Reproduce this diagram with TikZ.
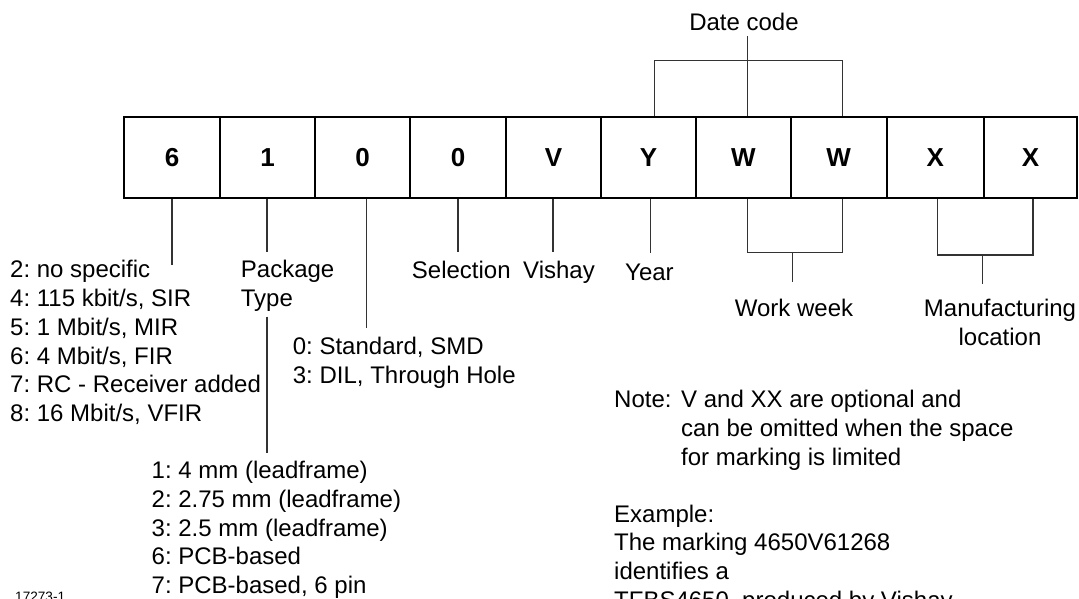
\documentclass[tikz,border=0pt]{standalone}
\usepackage{fontspec}
\setmainfont{Liberation Sans}
\frenchspacing
\usetikzlibrary{positioning}

\begin{document}
\begin{tikzpicture}[
  x=1pt, y=-1pt,
  every node/.style={font=\fontsize{24}{28.8}\selectfont, inner sep=0pt},
  codebox/.style={draw, line width=2pt, minimum height=81.2pt, inner sep=0pt,
                  font=\fontsize{26}{30}\selectfont\bfseries},
  lead/.style={line width=1.1pt, black!80},
  txt/.style={anchor=base west, align=left},
]
  \useasboundingbox (0,0) rectangle (1079,598);
  \clip (0,0) rectangle (1079,598);

  % Marking boxes
  \node[codebox, minimum width=96pt]   (p1)  at (172,157.1)    {6};
  \node[codebox, minimum width=95pt]   (p2)  at (267.5,157.1)  {1};
  \node[codebox, minimum width=95pt]   (p3)  at (362.5,157.1)  {0};
  \node[codebox, minimum width=96pt]   (p4)  at (458,157.1)    {0};
  \node[codebox, minimum width=95pt]   (p5)  at (553.5,157.1)  {V};
  \node[codebox, minimum width=95pt]   (p6)  at (648.5,157.1)  {Y};
  \node[codebox, minimum width=95pt]   (p7)  at (743.5,157.1)  {W};
  \node[codebox, minimum width=95.5pt] (p8)  at (838.75,157.1) {W};
  \node[codebox, minimum width=97.5pt] (p9)  at (935.25,157.1) {X};
  \node[codebox, minimum width=93pt]   (p10) at (1030.5,157.1) {X};

  % Labels (multi-line ones sit on the baseline of their last line)
  \node[anchor=base] (date) at (744,30.8) {Date code};
  \node[txt] (speed) at (10,421.6) {2: no specific\\4: 115 kbit/s, SIR\\5: 1 Mbit/s, MIR\\
    6: 4 Mbit/s, FIR\\7: RC - Receiver added\\8: 16 Mbit/s, VFIR};
  \node[txt] (pkgtype) at (240.7,306.4) {Package\\Type};
  \node[txt] (mount) at (292.7,383.4) {0: Standard, SMD\\3: DIL, Through Hole};
  \node[txt] (pkglist) at (151.5,593.6) {1: 4 mm (leadframe)\\2: 2.75 mm (leadframe)\\
    3: 2.5 mm (leadframe)\\6: PCB-based\\7: PCB-based, 6 pin};
  \node[txt] (sel) at (411.7,278.6) {Selection};
  \node[txt] (vishay) at (523,278.6) {Vishay};
  \node[txt] (year) at (625,280.2) {Year};
  \node[anchor=base] (week) at (794,316.6) {Work week};
  \node[anchor=base, align=center] (loc) at (1000,345.4) {Manufacturing\\location};
  \node[txt] (notehd) at (614,407.9) {Note:};
  \node[txt] (note) at (681,465.5) {V and XX are optional and\\can be omitted when the space\\
    for marking is limited};
  \node[txt] (example) at (614,608.5) {Example:\\The marking 4650V61268\\identifies a\\
    TFBS4650, produced by Vishay};
  \node[txt, font=\fontsize{13.6}{16}\selectfont] (fig) at (15,601.5) {17273-1};

  % Leads below the boxes
  \coordinate (e1) at (172,265);
  \coordinate (e2) at (267,252.3);
  \coordinate (t1) at (267,316.7);
  \coordinate (t2) at (267,452.7);
  \coordinate (e3) at (366.7,328.3);
  \coordinate (e4) at (458,252.3);
  \coordinate (e5) at (553,252.3);
  \coordinate (e6) at (650.7,252.7);
  \draw[lead] (e1 |- p1.south) -- (e1);
  \draw[lead] (e2 |- p2.south) -- (e2);
  \draw[lead] (t1) -- (t2);
  \draw[lead] (e3 |- p3.south) -- (e3);
  \draw[lead] (e4 |- p4.south) -- (e4);
  \draw[lead] (e5 |- p5.south) -- (e5);
  \draw[lead] (e6 |- p6.south) -- (e6);

  % Work week bracket
  \coordinate (w1) at (747.3,252.5);
  \coordinate (w2) at (842.3,252.5);
  \coordinate (ws) at (792.3,281.5);
  \draw[lead] (w1 |- p7.south) -- (w1) -- (w2) -- (w2 |- p8.south);
  \draw[lead] (ws |- w1) -- (ws);

  % Manufacturing location bracket
  \coordinate (x1) at (937.5,255);
  \coordinate (x2) at (1033,255);
  \coordinate (xs) at (982.8,283.7);
  \draw[lead] (x1 |- p9.south) -- (x1) -- (x2) -- (x2 |- p10.south);
  \draw[lead] (xs |- x1) -- (xs);

  % Date code bracket
  \coordinate (d1) at (654.5,60.7);
  \coordinate (d2) at (842.2,60.7);
  \coordinate (ds) at (747.3,36);
  \draw[lead] (d1 |- p6.north) -- (d1) -- (d2) -- (d2 |- p8.north);
  \draw[lead] (ds |- p7.north) -- (ds);
\end{tikzpicture}
\end{document}
